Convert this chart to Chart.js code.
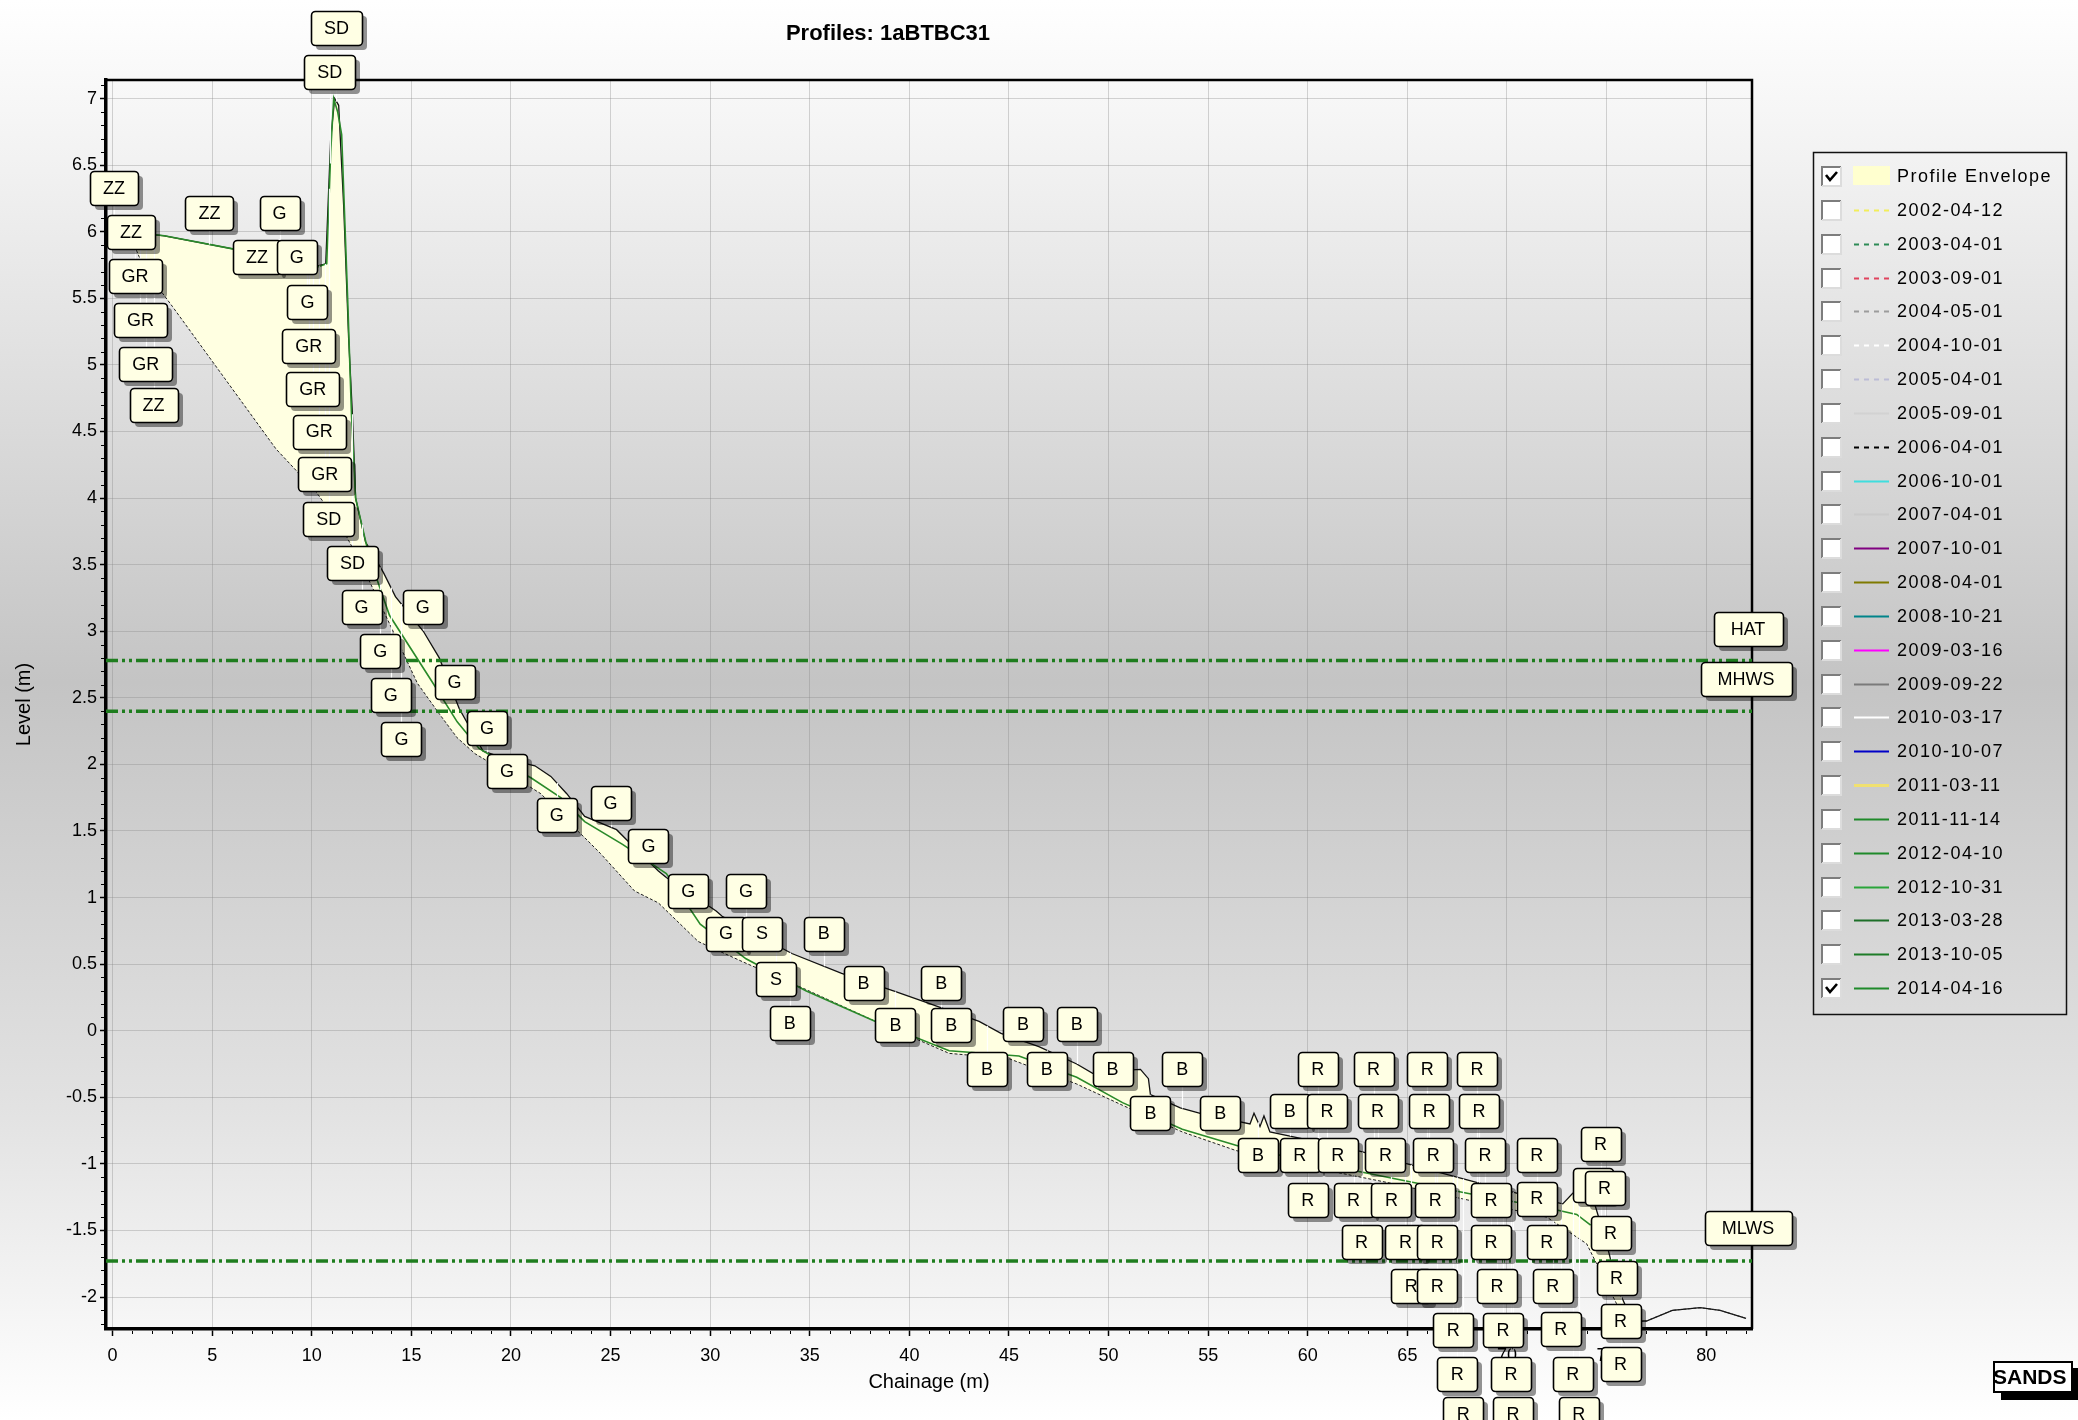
<!DOCTYPE html>
<html>
<head>
<meta charset="utf-8">
<title>Profiles: 1aBTBC31</title>
<script src="https://cdn.jsdelivr.net/npm/chart.js@4.4.1/dist/chart.umd.min.js"></script>
<style>
  html, body { margin: 0; padding: 0; background: #fff; }
  canvas { display: block; }
</style>
</head>
<body>
<canvas id="profileChart" width="2078" height="1420"></canvas>
<script>
// axis ranges (m)
const chainageMin = -0.33, chainageMax = 82.3;
const levelMin = -2.24, levelMax = 7.14;

// profile envelope, upper edge
const upperChainage = [0.8, 2.6, 6.1, 8.5, 10.2, 10.7, 10.95, 11.15, 11.35, 11.6, 11.85, 12.05, 12.2, 12.7, 13.6, 14.2,
  15.6, 16.4, 17.4, 18.6, 19.8, 21.2, 22.0, 22.8, 23.7, 25.3, 26.5, 27.4, 27.8, 30.3, 30.6, 34.1, 36.6, 39.2, 40.7,
  43.5, 44.6, 46.5, 48.4, 49.2, 50.5, 51.6, 52.0, 52.1, 53.6, 54.6, 57.1, 57.3, 57.6, 57.8, 58.1, 60.0, 62.5, 65.0,
  68.0, 71.0, 72.8, 73.3, 73.9, 74.4, 75.0, 75.6, 76.3, 77.0, 78.3, 79.7, 80.7, 82.0];
const upperLevel = [6.00, 5.97, 5.87, 5.80, 5.74, 5.76, 6.70, 7.00, 6.95, 6.20, 5.20, 4.60, 4.00, 3.67, 3.44, 3.26,
  3.00, 2.80, 2.42, 2.10, 2.04, 1.99, 1.91, 1.78, 1.61, 1.51, 1.33, 1.20, 1.15, 0.90, 0.86, 0.58, 0.43, 0.30, 0.22,
  0.07, -0.02, -0.12, -0.25, -0.32, -0.30, -0.29, -0.36, -0.48, -0.58, -0.62, -0.70, -0.62, -0.72, -0.64, -0.76, -0.82, -0.90, -1.00,
  -1.12, -1.24, -1.30, -1.22, -1.17, -1.30, -1.60, -1.95, -2.18, -2.18, -2.10, -2.08, -2.10, -2.16];

// profile envelope, lower edge
const lowerChainage = [0.8, 1.6, 3.0, 8.2, 10.2, 11.5, 12.5, 13.8, 15.3, 16.4, 17.3, 18.2, 20.0, 21.5, 23.0, 23.7,
  24.5, 26.2, 27.4, 29.4, 31.6, 34.8, 38.3, 42.0, 45.0, 48.4, 50.7, 53.7, 56.4, 60.0, 64.0, 68.0, 72.0, 74.0, 75.5,
  76.3, 77.0, 78.3, 79.7, 80.7, 82.0];
const lowerLevel = [6.00, 5.72, 5.44, 4.37, 4.05, 3.78, 3.50, 3.09, 2.61, 2.38, 2.20, 2.08, 1.92, 1.78, 1.55, 1.45,
  1.33, 1.05, 0.96, 0.67, 0.52, 0.31, 0.07, -0.17, -0.21, -0.40, -0.56, -0.76, -0.90, -1.02, -1.14, -1.27, -1.40, -1.60, -2.05,
  -2.19, -2.18, -2.10, -2.08, -2.10, -2.16];

// survey 2014-04-16
const surveyChainage = [0.8, 2.6, 6.1, 8.5, 10.2, 10.75, 10.95, 11.1, 11.3, 11.5, 11.8, 12.0, 12.2, 12.9, 13.9, 16.0,
  17.3, 18.4, 19.5, 21.0, 22.5, 23.7, 25.6, 27.8, 29.5, 31.8, 34.8, 38.3, 42.0, 45.5, 48.4, 50.7, 53.7, 56.6, 60.0,
  64.0, 68.0, 72.0, 73.5, 74.2];
const surveyLevel = [6.00, 5.97, 5.87, 5.80, 5.73, 5.76, 6.60, 7.00, 6.90, 6.73, 5.50, 4.60, 4.00, 3.55, 3.12, 2.63,
  2.32, 2.12, 2.02, 1.90, 1.75, 1.57, 1.40, 1.18, 0.80, 0.54, 0.30, 0.07, -0.15, -0.19, -0.35, -0.54, -0.74, -0.87, -0.98,
  -1.10, -1.22, -1.33, -1.38, -1.46];

// tidal levels
const tideNames = ['HAT', 'MHWS', 'MLWS'];
const tideLevels = [2.78, 2.40, -1.73];
const tideLabelChainage = [82.1, 82.0, 82.1];
const tideLabelLevel = [3.02, 2.64, -1.48];

// feature codes
const codeText = ['SD', 'SD', 'ZZ', 'ZZ', 'G', 'ZZ', 'ZZ', 'G', 'GR', 'G', 'GR', 'GR', 'GR', 'GR', 'ZZ', 'GR', 'GR', 'SD', 'SD',
  'G', 'G', 'G', 'G', 'G', 'G', 'G', 'G', 'G', 'G', 'G', 'G', 'G', 'G', 'S', 'B', 'S', 'B', 'B',
  'B', 'B', 'B', 'B', 'B', 'B', 'B', 'B', 'B', 'B', 'B', 'B',
  'R', 'R', 'R', 'R', 'R', 'R', 'R', 'R',
  'B', 'R', 'R', 'R', 'R', 'R', 'R', 'R',
  'R', 'R', 'R', 'R', 'R', 'R', 'R', 'R',
  'R', 'R', 'R', 'R', 'R', 'R',
  'R', 'R', 'R', 'R', 'R',
  'R', 'R', 'R', 'R',
  'R', 'R', 'R', 'R',
  'R', 'R', 'R'];
const codeChainage = [11.24, 10.9, 0.07, 4.86, 8.38, 0.93, 7.25, 9.25, 1.13, 9.78, 1.40, 9.85, 1.66, 10.05, 2.06, 10.38, 10.65, 10.85, 12.04,
  12.5, 15.57, 13.44, 17.17, 13.97, 18.8, 14.5, 19.8, 22.3, 25.0, 26.9, 28.9, 31.8, 30.8, 32.6, 35.7, 33.3, 37.7, 41.6,
  34.0, 39.3, 42.1, 45.7, 48.4, 43.9, 46.9, 50.2, 53.7, 52.1, 55.6, 59.1,
  60.96, 63.5, 66.1, 68.6, 60.5, 63.3, 66.0, 68.5,
  57.5, 59.6, 61.5, 63.9, 66.3, 68.9, 71.5, 74.7,
  60.0, 62.3, 64.2, 66.4, 69.2, 71.5, 74.3, 74.9,
  62.7, 64.9, 66.5, 69.2, 72.0, 75.2,
  65.2, 66.5, 69.5, 72.3, 75.5,
  67.3, 69.8, 72.7, 75.7,
  67.5, 70.2, 73.3, 75.7,
  67.8, 70.3, 73.6];
const codeLevel = [7.53, 7.20, 6.33, 6.14, 6.14, 6.00, 5.81, 5.81, 5.67, 5.47, 5.34, 5.14, 5.01, 4.82, 4.70, 4.50, 4.18, 3.84, 3.51,
  3.18, 3.18, 2.85, 2.62, 2.52, 2.27, 2.19, 1.95, 1.62, 1.71, 1.39, 1.05, 1.05, 0.73, 0.73, 0.73, 0.39, 0.36, 0.36,
  0.06, 0.04, 0.04, 0.05, 0.05, -0.29, -0.29, -0.29, -0.29, -0.62, -0.62, -0.60,
  -0.60, -0.60, -0.60, -0.60, -0.29, -0.29, -0.29, -0.29,
  -0.93, -0.93, -0.93, -0.93, -0.93, -0.93, -0.93, -0.85,
  -1.27, -1.27, -1.27, -1.27, -1.27, -1.26, -1.16, -1.18,
  -1.59, -1.59, -1.59, -1.59, -1.59, -1.52,
  -1.92, -1.92, -1.92, -1.92, -1.86,
  -2.25, -2.25, -2.24, -2.18,
  -2.58, -2.58, -2.58, -2.50,
  -2.88, -2.88, -2.88];

// legend entries
const legendNames = ['Profile Envelope', '2002-04-12', '2003-04-01', '2003-09-01', '2004-05-01', '2004-10-01', '2005-04-01',
  '2005-09-01', '2006-04-01', '2006-10-01', '2007-04-01', '2007-10-01', '2008-04-01', '2008-10-21', '2009-03-16',
  '2009-09-22', '2010-03-17', '2010-10-07', '2011-03-11', '2011-11-14', '2012-04-10', '2012-10-31', '2013-03-28',
  '2013-10-05', '2014-04-16'];
const legendChecked = ['Profile Envelope', '2014-04-16'];

const legendStyle = {
  '2002-04-12': ['#f2ee5a', true], '2003-04-01': ['#2e8b57', true], '2003-09-01': ['#e0445e', true],
  '2004-05-01': ['#9c9c9c', true], '2004-10-01': ['#ffffff', true], '2005-04-01': ['#bcbcd6', true],
  '2005-09-01': ['#d2d2d2', false], '2006-04-01': ['#000000', true], '2006-10-01': ['#3fdede', false],
  '2007-04-01': ['#cacaca', false], '2007-10-01': ['#800080', false], '2008-04-01': ['#7f7a00', false],
  '2008-10-21': ['#00848a', false], '2009-03-16': ['#ff00ff', false], '2009-09-22': ['#7a7a7a', false],
  '2010-03-17': ['#ffffff', false], '2010-10-07': ['#0000c8', false], '2011-03-11': ['#f0e070', false],
  '2011-11-14': ['#1f8a2a', false], '2012-04-10': ['#1f8a2a', false], '2012-10-31': ['#2aa53a', false],
  '2013-03-28': ['#1d6f28', false], '2013-10-05': ['#1e7c28', false], '2014-04-16': ['#1f8a2a', false]
};

const FONT = '"Liberation Sans", Arial, sans-serif';
const pts = (xs, ys) => xs.map((x, i) => ({ x, y: ys[i] }));

// level of a profile at a chainage, for the label leaders
function levelAt(xs, ys, v) {
  if (v <= xs[0]) return ys[0];
  for (let i = 1; i < xs.length; i++) {
    if (v <= xs[i]) return ys[i - 1] + (v - xs[i - 1]) / (xs[i] - xs[i - 1]) * (ys[i] - ys[i - 1]);
  }
  return ys[ys.length - 1];
}

const background = {
  id: 'background',
  beforeDraw(chart) {
    const { ctx, width, height } = chart;
    const g = ctx.createLinearGradient(0, 0, 0, height);
    g.addColorStop(0, '#ffffff');
    g.addColorStop(0.12, '#f1f1f1');
    g.addColorStop(0.48, '#c4c4c4');
    g.addColorStop(0.78, '#e2e2e2');
    g.addColorStop(1, '#ffffff');
    ctx.save();
    ctx.fillStyle = g;
    ctx.fillRect(0, 0, width, height);
    ctx.restore();
  }
};

const frame = {
  id: 'frame',
  beforeDatasetsDraw(chart) {
    const { ctx, chartArea: a, scales: { x, y } } = chart;
    ctx.save();
    ctx.strokeStyle = '#000';
    ctx.lineWidth = 2.5;
    ctx.beginPath();
    ctx.moveTo(a.left, a.top);
    ctx.lineTo(a.right, a.top);
    ctx.lineTo(a.right, a.bottom);
    ctx.stroke();
    // minor ticks
    ctx.lineWidth = 1;
    ctx.beginPath();
    for (let v = 1; v <= 82; v++) {
      if (v % 5 === 0) continue;
      const px = Math.round(x.getPixelForValue(v)) + 0.5;
      ctx.moveTo(px, a.bottom + 2);
      ctx.lineTo(px, a.bottom + 5);
    }
    for (let k = -22; k <= 71; k++) {
      if (k % 5 === 0) continue;
      const py = Math.round(y.getPixelForValue(k / 10)) + 0.5;
      ctx.moveTo(a.left - 2, py);
      ctx.lineTo(a.left - 5, py);
    }
    ctx.stroke();
    ctx.restore();
  }
};

function tagBox(ctx, g, h) {
  ctx.beginPath();
  ctx.roundRect(Math.round(g.px - g.w / 2) + 0.5, Math.round(g.py - h / 2) + 0.5, g.w, h, 4);
}

const tags = {
  id: 'tags',
  afterDatasetsDraw(chart) {
    const { ctx, scales: { x, y } } = chart;
    const h = 34;
    const list = codeText.map((t, i) => ({
      t, pad: 13,
      px: x.getPixelForValue(codeChainage[i]),
      py: y.getPixelForValue(codeLevel[i]),
      lead: y.getPixelForValue(levelAt(upperChainage, upperLevel, codeChainage[i]))
    }));
    tideNames.forEach((t, i) => list.push({
      t, pad: 17,
      px: x.getPixelForValue(tideLabelChainage[i]),
      py: y.getPixelForValue(tideLabelLevel[i])
    }));
    list.sort((a, b) => a.px - b.px);
    ctx.save();
    // leaders
    ctx.strokeStyle = 'rgba(255,255,255,0.95)';
    ctx.lineWidth = 1.2;
    ctx.beginPath();
    list.forEach(g => {
      if (g.lead === undefined) return;
      const px = Math.round(g.px) + 0.5;
      ctx.moveTo(px, g.py);
      ctx.lineTo(px, g.lead);
    });
    ctx.stroke();
    ctx.font = '18px ' + FONT;
    list.forEach(g => { g.w = Math.round(Math.max(40, ctx.measureText(g.t).width + 2 * g.pad)); });
    ctx.fillStyle = 'rgba(0,0,0,0.42)';
    list.forEach(g => {
      ctx.beginPath();
      ctx.roundRect(Math.round(g.px - g.w / 2) + 5, Math.round(g.py - h / 2) + 5, g.w, h, 4);
      ctx.fill();
    });
    ctx.textAlign = 'center';
    ctx.textBaseline = 'middle';
    list.forEach(g => {
      tagBox(ctx, g, h);
      ctx.fillStyle = '#ffffe4';
      ctx.fill();
      ctx.lineWidth = 1.6;
      ctx.strokeStyle = '#000';
      ctx.stroke();
      ctx.fillStyle = '#000';
      ctx.fillText(g.t, g.px, g.py + 1);
    });
    ctx.restore();
  }
};

const decorations = {
  id: 'decorations',
  afterDraw(chart) {
    const { ctx } = chart;
    ctx.save();
    // title
    ctx.fillStyle = '#000';
    ctx.font = 'bold 22px ' + FONT;
    ctx.textAlign = 'center';
    ctx.textBaseline = 'middle';
    ctx.fillText('Profiles: 1aBTBC31', 888, 34);

    // legend
    const lx = 1813, ly = 152, lw = 253, lh = 862;
    ctx.lineWidth = 1.5;
    ctx.strokeStyle = '#111';
    ctx.strokeRect(lx + 0.5, ly + 0.5, lw, lh);
    const step = (988 - 176) / (legendNames.length - 1);
    ctx.font = '18px ' + FONT;
    ctx.letterSpacing = '1.5px';
    ctx.textAlign = 'left';
    legendNames.forEach((name, i) => {
      const cy = Math.round(176 + i * step);
      // checkbox
      const bx = 1821, by = cy - 10;
      ctx.fillStyle = '#ffffff';
      ctx.fillRect(bx, by, 20, 20);
      ctx.lineWidth = 2;
      ctx.strokeStyle = '#7d7d7d';
      ctx.beginPath();
      ctx.moveTo(bx + 1, by + 20); ctx.lineTo(bx + 1, by + 1); ctx.lineTo(bx + 20, by + 1);
      ctx.stroke();
      ctx.strokeStyle = '#dcdcdc';
      ctx.beginPath();
      ctx.moveTo(bx + 1, by + 20); ctx.lineTo(bx + 20, by + 20); ctx.lineTo(bx + 20, by + 1);
      ctx.stroke();
      if (legendChecked.includes(name)) {
        ctx.strokeStyle = '#000';
        ctx.lineWidth = 2.6;
        ctx.beginPath();
        ctx.moveTo(bx + 5, by + 9); ctx.lineTo(bx + 9, by + 14); ctx.lineTo(bx + 16, by + 6);
        ctx.stroke();
      }
      // sample
      if (i === 0) {
        ctx.fillStyle = '#ffffcf';
        ctx.fillRect(1853, cy - 10, 37, 19);
      } else {
        const [color, dashed] = legendStyle[name];
        ctx.strokeStyle = color;
        ctx.lineWidth = name === '2011-03-11' ? 3 : 1.8;
        ctx.setLineDash(dashed ? [5, 5] : []);
        ctx.beginPath();
        ctx.moveTo(1854, cy + 0.5); ctx.lineTo(1889, cy + 0.5);
        ctx.stroke();
        ctx.setLineDash([]);
      }
      ctx.fillStyle = '#000';
      ctx.fillText(name, 1897, cy + 1);
    });
    ctx.letterSpacing = '0px';

    // SANDS stamp
    ctx.fillStyle = '#000';
    ctx.fillRect(2001, 1368, 80, 32);
    ctx.fillStyle = '#fff';
    ctx.fillRect(1993, 1361, 80, 32);
    ctx.lineWidth = 2;
    ctx.strokeStyle = '#000';
    ctx.strokeRect(1994, 1362, 78, 30);
    ctx.fillStyle = '#000';
    ctx.font = 'bold 21px ' + FONT;
    ctx.textAlign = 'left';
    ctx.fillText('SANDS', 1993, 1378);
    ctx.restore();
  }
};

const tideDatasets = tideNames.map((name, i) => ({
  label: name,
  data: [{ x: chainageMin, y: tideLevels[i] }, { x: chainageMax, y: tideLevels[i] }],
  borderColor: '#1e7d1e',
  borderWidth: 3.5,
  borderDash: [12, 4, 3, 4, 3, 4],
  pointRadius: 0,
  fill: false,
  order: 1
}));

new Chart(document.getElementById('profileChart'), {
  type: 'line',
  data: {
    datasets: [
      {
        label: 'Envelope upper',
        data: pts(upperChainage, upperLevel),
        borderColor: '#111',
        borderWidth: 1.3,
        backgroundColor: '#ffffe1',
        fill: 1,
        pointRadius: 0,
        order: 4
      },
      {
        label: 'Envelope lower',
        data: pts(lowerChainage, lowerLevel),
        borderColor: '#222',
        borderWidth: 1,
        borderDash: [3, 2],
        fill: false,
        pointRadius: 0,
        order: 3
      },
      {
        label: '2014-04-16',
        data: pts(surveyChainage, surveyLevel),
        borderColor: '#2a8a2a',
        borderWidth: 1.6,
        fill: false,
        pointRadius: 0,
        order: 0
      },
      ...tideDatasets
    ]
  },
  options: {
    responsive: false,
    animation: false,
    events: [],
    devicePixelRatio: 1,
    layout: { padding: { left: 10, top: 80, right: 326, bottom: 0 } },
    plugins: {
      legend: { display: false },
      tooltip: { enabled: false },
      filler: { drawTime: 'beforeDatasetsDraw' }
    },
    scales: {
      x: {
        type: 'linear',
        min: chainageMin,
        max: chainageMax,
        afterFit: s => { s.height = 91; },
        ticks: { stepSize: 5, includeBounds: false, autoSkip: false, maxRotation: 0, padding: 9, color: '#000', font: { size: 18, family: FONT } },
        grid: { color: 'rgba(135,135,135,0.35)', lineWidth: 1, tickLength: 7, tickColor: '#000', tickWidth: 1.5 },
        border: { display: true, color: '#000', width: 3.5 },
        title: { display: true, text: 'Chainage (m)', color: '#000', font: { size: 20, family: FONT }, padding: { top: 0, bottom: 26 } }
      },
      y: {
        type: 'linear',
        min: levelMin,
        max: levelMax,
        afterFit: s => { s.width = 96; },
        ticks: {
          stepSize: 0.5, includeBounds: false, autoSkip: false, padding: 3, color: '#000',
          font: { size: 18, family: FONT },
          callback: v => String(Math.round(v * 10) / 10)
        },
        grid: { color: 'rgba(135,135,135,0.35)', lineWidth: 1, tickLength: 6, tickColor: '#000', tickWidth: 1.5 },
        border: { display: true, color: '#000', width: 3.5 },
        title: { display: true, text: 'Level (m)', color: '#000', font: { size: 20, family: FONT }, padding: { top: 2, bottom: 0 } }
      }
    }
  },
  plugins: [background, frame, tags, decorations]
});
</script>
</body>
</html>
